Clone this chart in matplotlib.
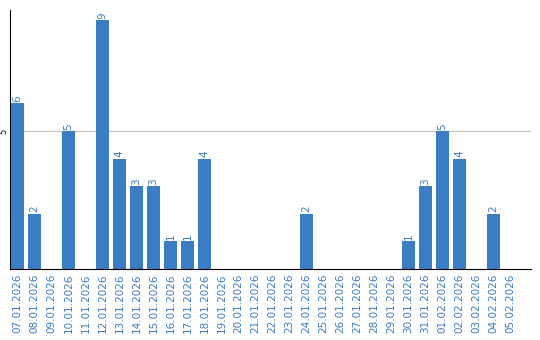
import matplotlib
matplotlib.use('Agg')
import matplotlib.pyplot as plt
import numpy as np

# daily counts
dates = ['07.01.2026', '08.01.2026', '09.01.2026', '10.01.2026', '11.01.2026', '12.01.2026',
         '13.01.2026', '14.01.2026', '15.01.2026', '16.01.2026', '17.01.2026', '18.01.2026',
         '19.01.2026', '20.01.2026', '21.01.2026', '22.01.2026', '23.01.2026', '24.01.2026',
         '25.01.2026', '26.01.2026', '27.01.2026', '28.01.2026', '29.01.2026', '30.01.2026',
         '31.01.2026', '01.02.2026', '02.02.2026', '03.02.2026', '04.02.2026', '05.02.2026']
counts = [6, 2, 0, 5, 0, 9, 4, 3, 3, 1, 1, 4, 0, 0, 0, 0, 0, 2,
          0, 0, 0, 0, 0, 1, 3, 5, 4, 0, 2, 0]

blue = '#3a7dc2'

fig = plt.figure(figsize=(5.4, 3.4), dpi=100)
ax = fig.add_axes([10 / 540, 71 / 340, 521 / 540, 259 / 340])

x = np.arange(len(dates))
ax.bar(x, counts, width=0.78, color=blue, zorder=2)

# value labels above the non-empty bars
for xi, v in zip(x, counts):
    if v > 0:
        ax.text(xi, v + 0.05, str(v), rotation=90, ha='center', va='bottom',
                color=blue, fontsize=7.5)

ax.set_xlim(-0.44, 30.2)
ax.set_ylim(0, 9.38)
ax.set_yticks([5])
ax.set_yticklabels(['5'], rotation=90, va='center', fontsize=6)
ax.axhline(5, color='#c8c8c8', lw=1, zorder=1)

ax.set_xticks(x)
ax.set_xticklabels(dates, rotation=90, color=blue, fontsize=7.5)
ax.tick_params(axis='x', length=0, pad=3)
ax.tick_params(axis='y', length=0, pad=1)

for s in ['top', 'right']:
    ax.spines[s].set_visible(False)
ax.spines['left'].set_color('black')
ax.spines['bottom'].set_color('black')

fig.savefig('out.png', dpi=100)
